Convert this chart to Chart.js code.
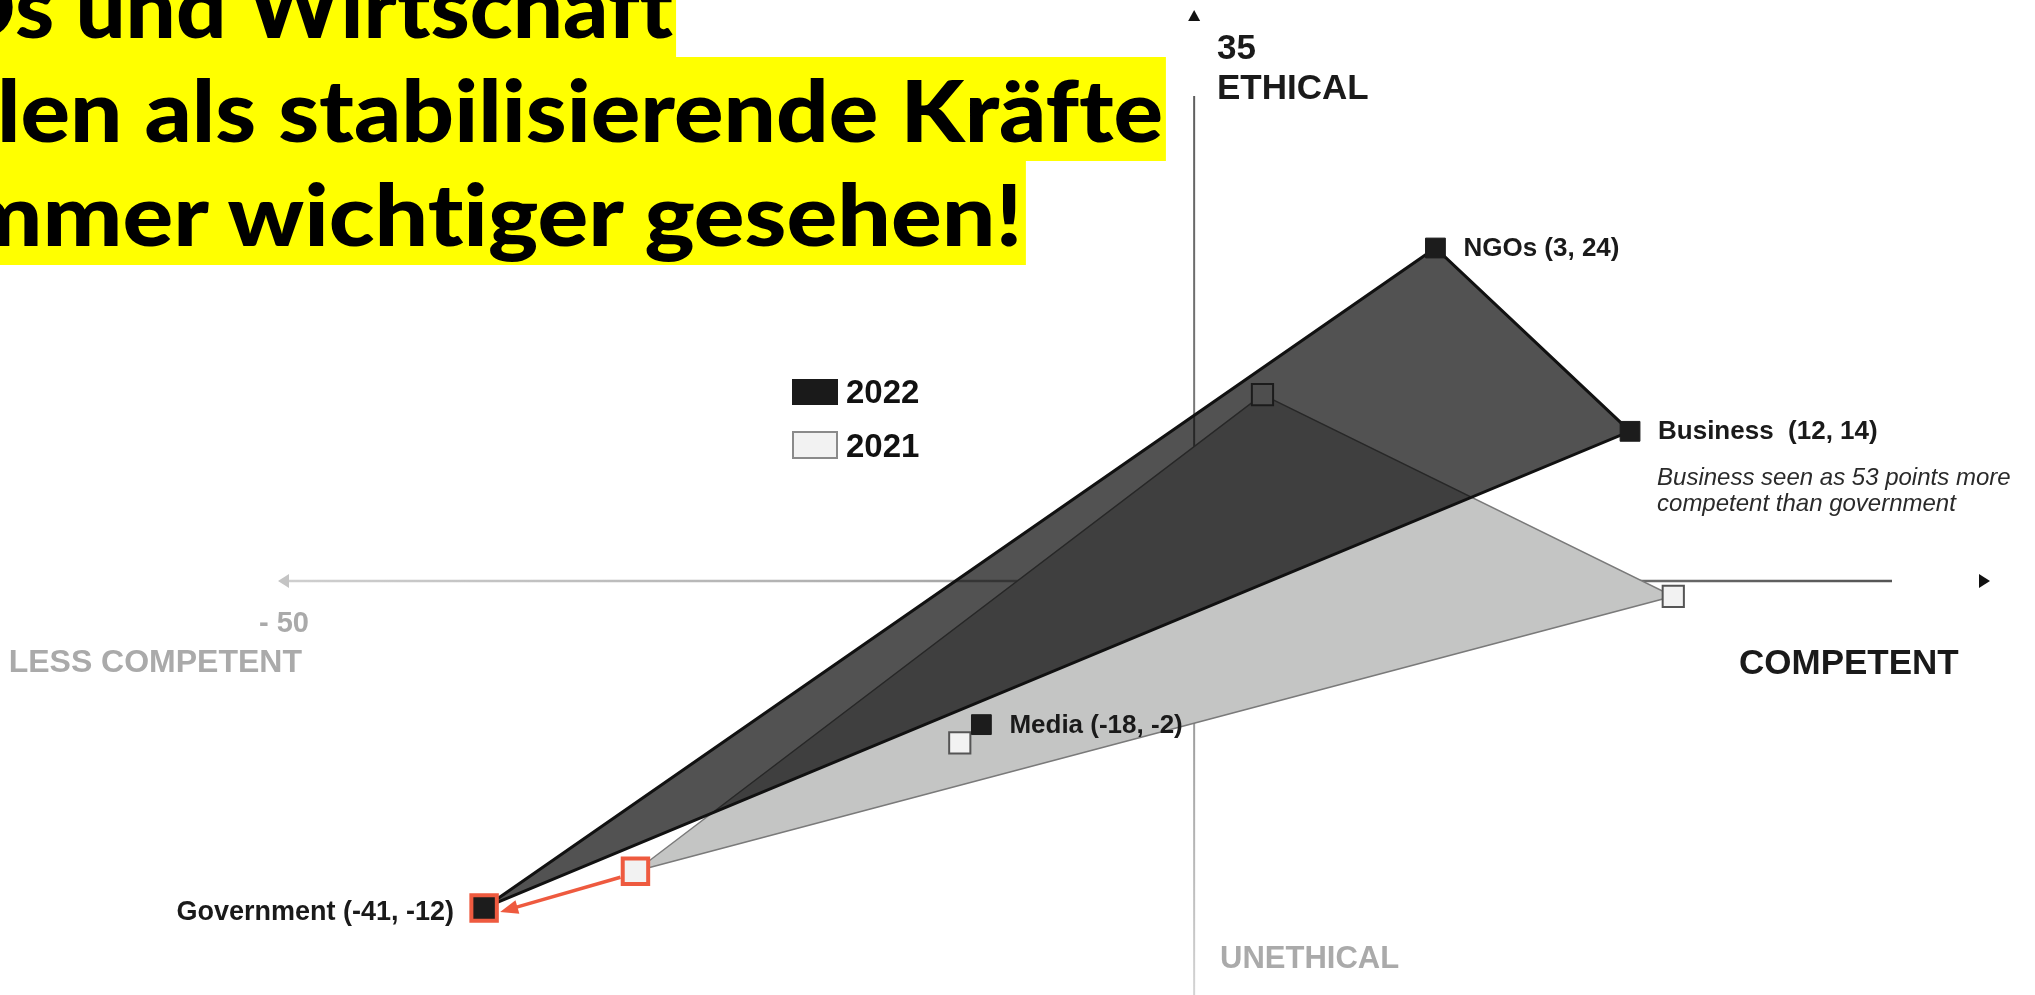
<!DOCTYPE html>
<html>
<head>
<meta charset="utf-8">
<script src="https://cdn.jsdelivr.net/npm/chart.js@4.4.0/dist/chart.umd.min.js"></script>
<style>
html, body { margin: 0; padding: 0; background: #fff; overflow: hidden; }
#wrap { position: relative; width: 2035px; height: 995px; overflow: hidden; }
#grafico { position: absolute; left: 0; top: 0; }
.titel {
    position: absolute;
    background: #ffff00;
    color: #000;
    font-family: 'Lato', sans-serif;
    font-weight: 900;
    font-size: 86px;
    line-height: 104px;
    height: 104px;
    white-space: nowrap;
    font-variant-ligatures: none;
    transform-origin: 0 0;
    z-index: 2;
}
</style>
</head>
<body>
<div id="wrap">
    <canvas id="grafico" width="2035" height="995"></canvas>
    <div class="titel" id="z1" style="top:-47px"><span class="weg">NGO</span><span class="sicht">s und Wirtschaft</span></div>
    <div class="titel" id="z2" style="top:57px"><span class="sicht">len als stabilisierende Kräfte</span></div>
    <div class="titel" id="z3" style="top:161px"><span class="weg">im</span><span class="sicht">mer wichtiger gesehen!</span></div>
</div>
<script>
// dados
const kategorien = ['NGOs', 'Business', 'Media', 'Government'];
const kompetenz2022 = [3, 12, -18, -41];
const ethik2022 = [24, 14, -2, -12];
const kompetenz2021 = [-5, 14, -19, -34];
const ethik2021 = [16, 5, -3, -10];
const jahre = ['2022', '2021'];
const flaecheReihenfolge = ['Government', 'NGOs', 'Business', 'Government'];
const achsenTexte = ['35', 'ETHICAL', '- 50', 'LESS COMPETENT', 'COMPETENT', 'UNETHICAL'];
const notiz = ['Business seen as 53 points more', 'competent than government'];

const rot = '#ee5a3f';

function punkte(xs, ys) {
    return kategorien.map((k, i) => ({ x: xs[i], y: ys[i] }));
}
function flaeche(xs, ys) {
    return flaecheReihenfolge.map(k => {
        const i = kategorien.indexOf(k);
        return { x: xs[i], y: ys[i] };
    });
}
function farbeProPunkt(normal) {
    return kategorien.map(k => k === 'Government' ? rot : normal);
}

// achsenkreuz, texte, pfeil und legende
const deko = {
    id: 'deko',
    beforeDatasetsDraw(chart) {
        const ctx = chart.ctx;
        const ax = chart.scales.x.getPixelForValue(-8.16);
        const ay = chart.scales.y.getPixelForValue(5.84);
        ctx.save();
        // vertikal
        let g = ctx.createLinearGradient(0, 96, 0, 995);
        g.addColorStop(0, '#5e5e5e');
        g.addColorStop(0.6, '#8a8a8a');
        g.addColorStop(1, '#d4d4d4');
        ctx.strokeStyle = g;
        ctx.lineWidth = 2;
        ctx.beginPath();
        ctx.moveTo(ax, 96);
        ctx.lineTo(ax, 995);
        ctx.stroke();
        // horizontal
        g = ctx.createLinearGradient(282, 0, 1892, 0);
        g.addColorStop(0, '#cfcfcf');
        g.addColorStop(0.35, '#b0b0b0');
        g.addColorStop(1, '#555');
        ctx.strokeStyle = g;
        ctx.lineWidth = 2.5;
        ctx.beginPath();
        ctx.moveTo(284, ay);
        ctx.lineTo(1892, ay);
        ctx.stroke();
        // pfeilspitzen
        ctx.fillStyle = '#111';
        ctx.beginPath();
        ctx.moveTo(ax, 10); ctx.lineTo(ax - 6, 21); ctx.lineTo(ax + 6, 21);
        ctx.fill();
        ctx.beginPath();
        ctx.moveTo(1990, ay); ctx.lineTo(1979, ay - 7); ctx.lineTo(1979, ay + 7);
        ctx.fill();
        ctx.fillStyle = '#c4c4c4';
        ctx.beginPath();
        ctx.moveTo(278, ay); ctx.lineTo(289, ay - 7); ctx.lineTo(289, ay + 7);
        ctx.fill();
        ctx.restore();
    },
    afterDatasetsDraw(chart) {
        const ctx = chart.ctx;
        const sx = chart.scales.x, sy = chart.scales.y;
        ctx.save();
        ctx.textBaseline = 'middle';
        const fam = '"Liberation Sans", Arial, sans-serif';

        // achsentexte
        ctx.fillStyle = '#1a1a1a';
        ctx.font = 'bold 35px ' + fam;
        ctx.textAlign = 'left';
        ctx.fillText(achsenTexte[0], 1217, 49);
        ctx.fillText(achsenTexte[1], 1217, 89);
        ctx.fillText(achsenTexte[4], 1739, 664);
        ctx.fillStyle = '#aaaaaa';
        ctx.font = 'bold 29px ' + fam;
        ctx.textAlign = 'right';
        ctx.fillText(achsenTexte[2], 309, 624);
        ctx.font = 'bold 32px ' + fam;
        ctx.fillText(achsenTexte[3], 302, 663);
        ctx.textAlign = 'left';
        ctx.font = 'bold 31px ' + fam;
        ctx.fillText(achsenTexte[5], 1220, 959);

        // beschriftung der punkte
        ctx.fillStyle = '#1a1a1a';
        kategorien.forEach((k, i) => {
            const px = sx.getPixelForValue(kompetenz2022[i]);
            const py = sy.getPixelForValue(ethik2022[i]);
            const abstand = k === 'Business' ? '  ' : ' ';
            const text = k + abstand + '(' + kompetenz2022[i] + ', ' + ethik2022[i] + ')';
            if (k === 'Government') {
                ctx.font = 'bold 27px ' + fam;
                ctx.textAlign = 'right';
                ctx.fillText(text, px - 30, py + 5);
            } else {
                ctx.font = 'bold 26px ' + fam;
                ctx.textAlign = 'left';
                ctx.fillText(text, px + 28, py + 1);
            }
            if (k === 'Business') {
                ctx.save();
                ctx.fillStyle = '#2a2a2a';
                ctx.font = 'italic 24px ' + fam;
                ctx.fillText(notiz[0], px + 27, py + 47);
                ctx.fillText(notiz[1], px + 27, py + 73);
                ctx.restore();
            }
        });

        // pfeil government 2021 -> 2022
        const gi = kategorien.indexOf('Government');
        const x0 = sx.getPixelForValue(kompetenz2021[gi]) - 15;
        const y0 = sy.getPixelForValue(ethik2021[gi]) + 6;
        const x1 = sx.getPixelForValue(kompetenz2022[gi]) + 16;
        const y1 = sy.getPixelForValue(ethik2022[gi]) + 4;
        const w = Math.atan2(y1 - y0, x1 - x0);
        ctx.strokeStyle = rot;
        ctx.fillStyle = rot;
        ctx.lineWidth = 3.5;
        ctx.beginPath();
        ctx.moveTo(x0, y0);
        ctx.lineTo(x1 - 10 * Math.cos(w), y1 - 10 * Math.sin(w));
        ctx.stroke();
        ctx.beginPath();
        ctx.moveTo(x1, y1);
        ctx.lineTo(x1 - 18 * Math.cos(w) + 7 * Math.sin(w), y1 - 18 * Math.sin(w) - 7 * Math.cos(w));
        ctx.lineTo(x1 - 18 * Math.cos(w) - 7 * Math.sin(w), y1 - 18 * Math.sin(w) + 7 * Math.cos(w));
        ctx.fill();

        // legende
        ctx.fillStyle = '#1a1a1a';
        ctx.fillRect(792, 379, 46, 26);
        ctx.fillStyle = '#f2f2f2';
        ctx.fillRect(793, 432, 44, 26);
        ctx.strokeStyle = '#8a8a8a';
        ctx.lineWidth = 2;
        ctx.strokeRect(793, 432, 44, 26);
        ctx.fillStyle = '#111';
        ctx.font = 'bold 33px ' + fam;
        ctx.textAlign = 'left';
        ctx.fillText(jahre[0], 846, 394);
        ctx.fillText(jahre[1], 846, 448);
        ctx.restore();
    }
};

const config = {
    type: 'scatter',
    data: {
        datasets: [
            {
                label: jahre[0],
                data: punkte(kompetenz2022, ethik2022),
                pointStyle: 'rect',
                pointRadius: kategorien.map(k => k === 'Government' ? 18 : 14),
                pointBackgroundColor: '#1c1c1c',
                pointBorderColor: farbeProPunkt('#1c1c1c'),
                pointBorderWidth: kategorien.map(k => k === 'Government' ? 4 : 1)
            },
            {
                type: 'line',
                label: jahre[0] + ' Fläche',
                data: flaeche(kompetenz2022, ethik2022),
                borderColor: '#111',
                borderWidth: 3,
                backgroundColor: 'rgba(0,0,0,0.68)',
                fill: 'shape',
                pointRadius: 0,
                tension: 0
            },
            {
                label: jahre[1],
                data: punkte(kompetenz2021, ethik2021),
                pointStyle: 'rect',
                pointRadius: kategorien.map(k => k === 'Government' ? 18 : 15),
                pointBackgroundColor: '#f2f2f2',
                pointBorderColor: farbeProPunkt('#555'),
                pointBorderWidth: kategorien.map(k => k === 'Government' ? 4 : 2)
            },
            {
                type: 'line',
                label: jahre[1] + ' Fläche',
                data: flaeche(kompetenz2021, ethik2021),
                borderColor: '#7a7a7a',
                borderWidth: 1.5,
                backgroundColor: '#c4c5c4',
                fill: 'shape',
                pointRadius: 0,
                tension: 0
            }
        ]
    },
    options: {
        responsive: false,
        animation: false,
        devicePixelRatio: 1,
        layout: { padding: 0, autoPadding: false },
        plugins: {
            legend: { display: false },
            tooltip: { enabled: false }
        },
        scales: {
            x: { type: 'linear', min: -63.39, max: 30.73, display: false },
            y: { type: 'linear', min: -16.75, max: 37.53, display: false }
        }
    },
    plugins: [deko]
};

// titel an die vorlage anpassen
function titelAnpassen() {
    const zeilen = [
        { id: 'z1', start: 15, ende: 673, rand: 676 },
        { id: 'z2', start: -3, ende: 1163, rand: 1166 },
        { id: 'z3', start: 42, ende: 1022, rand: 1025 }
    ];
    zeilen.forEach(z => {
        const div = document.getElementById(z.id);
        const weg = div.querySelector('.weg');
        const sicht = div.querySelector('.sicht');
        const p = weg ? weg.getBoundingClientRect().width : 0;
        const w = sicht.getBoundingClientRect().width;
        const k = (z.ende - z.start) / w;
        div.style.transform = 'scaleX(' + k + ')';
        div.style.left = (z.start - p * k) + 'px';
        div.style.paddingRight = ((z.rand - z.ende) / k) + 'px';
    });
}

document.addEventListener('DOMContentLoaded', function() {
    titelAnpassen();
    const ctx = document.getElementById('grafico').getContext('2d');
    new Chart(ctx, config);
});
</script>
</body>
</html>
